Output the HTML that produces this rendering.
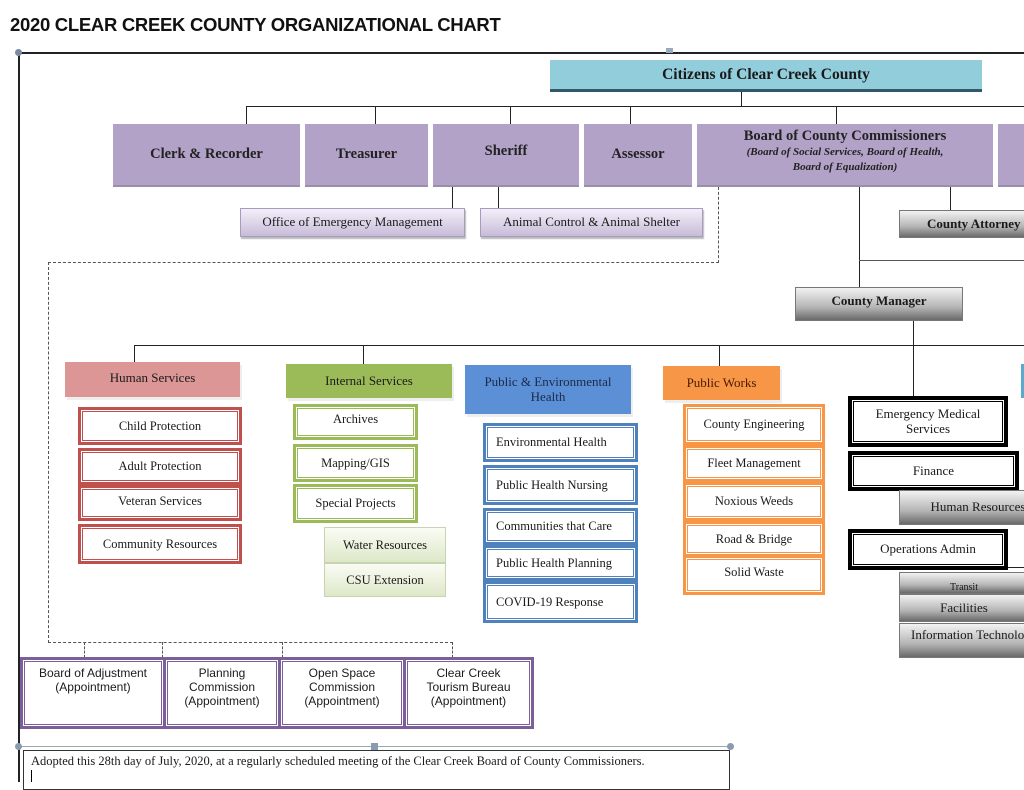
<!DOCTYPE html>
<html><head><meta charset="utf-8"><style>
*{margin:0;padding:0;box-sizing:border-box}
body{width:1024px;height:782px;background:#fff;position:relative;overflow:hidden;font-family:"Liberation Serif",serif;color:#1a1a1a}
.a{position:absolute}
.b{position:absolute;display:flex;align-items:center;justify-content:center;text-align:center;line-height:1.15}
.h{position:absolute;height:1px;background:#222}
.v{position:absolute;width:1px;background:#222}
.p{background:#b3a2c7;font-weight:bold;font-size:14.5px;color:#222;border-bottom:2px solid #9a8fa8}
.sub{background:linear-gradient(#f3effa,#c8bcd9);border:1px solid #a99bbd;font-size:13px;box-shadow:1px 2px 1px #bbb}
.g{background:linear-gradient(#f2f2f2,#b5b5b5 60%,#6a6a6a);border:1px solid #777;font-size:13px}
.gb{font-weight:bold}
.r{border:3px solid #c0504d;box-shadow:inset 0 0 0 1px #fff,inset 0 0 0 2px #c0504d;background:#fff;font-size:12.5px}
.gr{border:3px solid #9bbb59;box-shadow:inset 0 0 0 1px #fff,inset 0 0 0 2px #9bbb59;background:#fff;font-size:12.5px}
.bl{border:3px solid #4f81bd;box-shadow:inset 0 0 0 1px #fff,inset 0 0 0 2px #4f81bd;background:#fff;font-size:12.5px;justify-content:flex-start;padding-left:10px}
.o{border:3px solid #f79646;box-shadow:inset 0 0 0 1px #fff,inset 0 0 0 2px #f79646;background:#fff;font-size:12.5px}
.k{border:4px solid #000;box-shadow:inset 0 0 0 1px #fff,inset 0 0 0 2px #000;background:#fff;font-size:13px}
.lg{background:linear-gradient(#fafcf5,#dde8c8);border:1px solid #c8d4b0;font-size:12.5px}
.pu{border:3px solid #7a5f9a;box-shadow:inset 0 0 0 1px #fff,inset 0 0 0 2px #7a5f9a;background:#fff;font-family:"Liberation Sans",sans-serif;font-size:12px;align-items:flex-start;padding-top:7px}
.dh{position:absolute;height:0;border-top:1px dashed #555}
.dv{position:absolute;width:0;border-left:1px dashed #555}
</style></head><body>
<div class="a" style="left:10px;top:14px;font-family:'Liberation Sans',sans-serif;font-weight:bold;font-size:18.5px;letter-spacing:-0.3px;color:#111">2020 CLEAR CREEK COUNTY ORGANIZATIONAL CHART</div>
<div class="a" style="left:18px;top:52px;width:1006px;height:2px;background:#222"></div>
<div class="a" style="left:18px;top:52px;width:2px;height:730px;background:#222"></div>
<div class="a" style="left:15px;top:49px;width:7px;height:7px;border-radius:50%;background:#7a8aa0"></div>
<div class="a" style="left:666px;top:48px;width:7px;height:5px;background:#9ab"></div>

<div class="b" style="left:550px;top:60px;width:432px;height:32px;background:#92cddc;border-bottom:3px solid #31596a;font-weight:bold;font-size:15.5px">Citizens of Clear Creek County</div>
<div class="v" style="left:741px;top:92px;height:15px"></div>
<div class="h" style="left:246px;top:106px;width:778px"></div>
<div class="v" style="left:246px;top:106px;height:18px"></div>
<div class="v" style="left:375px;top:106px;height:18px"></div>
<div class="v" style="left:510px;top:106px;height:18px"></div>
<div class="v" style="left:630px;top:106px;height:18px"></div>
<div class="v" style="left:836px;top:106px;height:18px"></div>

<div class="b p" style="left:113px;top:124px;width:187px;height:63px">Clerk &amp; Recorder</div>
<div class="b p" style="left:305px;top:124px;width:123px;height:63px">Treasurer</div>
<div class="b p" style="left:433px;top:124px;width:146px;height:63px;padding-bottom:6px">Sheriff</div>
<div class="b p" style="left:584px;top:124px;width:108px;height:63px">Assessor</div>
<div class="b p" style="left:697px;top:124px;width:296px;height:63px;flex-direction:column;padding-bottom:6px"><div>Board of County Commissioners</div><div style="font-style:italic;font-size:11px;line-height:1.35">(Board of Social Services, Board of Health,<br>Board of Equalization)</div></div>
<div class="b p" style="left:998px;top:124px;width:30px;height:63px"></div>

<div class="v" style="left:452px;top:187px;height:21px"></div>
<div class="v" style="left:498px;top:187px;height:21px"></div>
<div class="b sub" style="left:240px;top:208px;width:225px;height:29px">Office of Emergency Management</div>
<div class="b sub" style="left:480px;top:208px;width:223px;height:29px">Animal Control &amp; Animal Shelter</div>
<div class="v" style="left:950px;top:187px;height:23px"></div>
<div class="b g gb" style="left:899px;top:210px;width:130px;height:28px;justify-content:flex-start;padding-left:27px;white-space:nowrap">County Attorney</div>

<div class="dv" style="left:718px;top:187px;height:76px"></div>
<div class="dh" style="left:48px;top:262px;width:671px"></div>
<div class="dv" style="left:48px;top:262px;height:381px"></div>
<div class="dh" style="left:48px;top:642px;width:405px"></div>
<div class="dv" style="left:84px;top:642px;height:16px"></div>
<div class="dv" style="left:162px;top:642px;height:16px"></div>
<div class="dv" style="left:282px;top:642px;height:16px"></div>
<div class="dv" style="left:452px;top:642px;height:16px"></div>

<div class="v" style="left:859px;top:187px;height:100px"></div>
<div class="h" style="left:859px;top:260px;width:165px;background:#555"></div>
<div class="b g gb" style="left:795px;top:287px;width:168px;height:34px;padding-bottom:6px">County Manager</div>
<div class="v" style="left:913px;top:321px;height:76px"></div>
<div class="h" style="left:134px;top:345px;width:890px"></div>
<div class="v" style="left:134px;top:345px;height:17px"></div>
<div class="v" style="left:363px;top:345px;height:20px"></div>
<div class="v" style="left:719px;top:345px;height:21px"></div>

<div class="b" style="left:65px;top:362px;width:175px;height:35px;background:#dc9696;font-size:13px;box-shadow:2px 3px 0 #eee;padding-bottom:3px">Human Services</div>
<div class="b r" style="left:78px;top:407px;width:164px;height:38px">Child Protection</div>
<div class="b r" style="left:78px;top:448px;width:164px;height:37px">Adult Protection</div>
<div class="b r" style="left:78px;top:485px;width:164px;height:36px;padding-bottom:4px">Veteran Services</div>
<div class="b r" style="left:78px;top:524px;width:164px;height:40px">Community Resources</div>

<div class="b" style="left:286px;top:364px;width:166px;height:34px;background:#9bbb59;font-size:13px;box-shadow:2px 3px 0 #eee">Internal Services</div>
<div class="b gr" style="left:293px;top:404px;width:125px;height:36px;padding-bottom:6px">Archives</div>
<div class="b gr" style="left:293px;top:444px;width:125px;height:38px">Mapping/GIS</div>
<div class="b gr" style="left:293px;top:484px;width:125px;height:39px">Special Projects</div>
<div class="b lg" style="left:324px;top:527px;width:122px;height:36px">Water Resources</div>
<div class="b lg" style="left:324px;top:563px;width:122px;height:34px">CSU Extension</div>

<div class="b" style="left:465px;top:365px;width:166px;height:49px;background:#5b8fd6;font-size:13px;box-shadow:2px 3px 0 #eee;color:#1b2a48">Public &amp; Environmental<br>Health</div>
<div class="b bl" style="left:483px;top:423px;width:155px;height:39px">Environmental Health</div>
<div class="b bl" style="left:483px;top:465px;width:155px;height:40px">Public Health Nursing</div>
<div class="b bl" style="left:483px;top:508px;width:155px;height:37px">Communities that Care</div>
<div class="b bl" style="left:483px;top:545px;width:155px;height:36px">Public Health Planning</div>
<div class="b bl" style="left:483px;top:581px;width:155px;height:42px">COVID-19 Response</div>

<div class="b" style="left:663px;top:366px;width:117px;height:34px;background:#f79646;font-size:13px;box-shadow:2px 3px 0 #eee;color:#4a1a00">Public Works</div>
<div class="b o" style="left:683px;top:404px;width:142px;height:41px">County Engineering</div>
<div class="b o" style="left:683px;top:445px;width:142px;height:37px">Fleet Management</div>
<div class="b o" style="left:683px;top:482px;width:142px;height:39px">Noxious Weeds</div>
<div class="b o" style="left:683px;top:521px;width:142px;height:36px">Road &amp; Bridge</div>
<div class="b o" style="left:683px;top:555px;width:142px;height:40px;padding-bottom:6px">Solid Waste</div>

<div class="b k" style="left:848px;top:396px;width:160px;height:51px">Emergency Medical<br>Services</div>
<div class="b k" style="left:848px;top:451px;width:171px;height:40px">Finance</div>
<div class="b g" style="left:899px;top:490px;width:130px;height:35px;padding-left:28px;white-space:nowrap">Human Resources</div>
<div class="b k" style="left:848px;top:529px;width:160px;height:41px">Operations Admin</div>
<div class="h" style="left:1008px;top:567px;width:16px"></div>
<div class="b g" style="left:899px;top:572px;width:130px;height:22px;font-size:10px;align-items:flex-end">Transit</div>
<div class="b g" style="left:899px;top:594px;width:130px;height:28px">Facilities</div>
<div class="b g" style="left:899px;top:623px;width:130px;height:35px;justify-content:flex-start;padding-left:11px;padding-bottom:10px;white-space:nowrap">Information Technology</div>
<div class="a" style="left:1021px;top:364px;width:6px;height:34px;background:#5aaad0"></div>

<div class="b pu" style="left:20px;top:657px;width:146px;height:72px">Board of Adjustment<br>(Appointment)</div>
<div class="b pu" style="left:163px;top:657px;width:118px;height:72px">Planning<br>Commission<br>(Appointment)</div>
<div class="b pu" style="left:278px;top:657px;width:128px;height:72px">Open Space<br>Commission<br>(Appointment)</div>
<div class="b pu" style="left:403px;top:657px;width:131px;height:72px">Clear Creek<br>Tourism Bureau<br>(Appointment)</div>

<div class="a" style="left:17px;top:746px;width:715px;height:1px;background:#9aa"></div>
<div class="a" style="left:15px;top:743px;width:7px;height:7px;border-radius:50%;background:#8a9ab0"></div>
<div class="a" style="left:371px;top:743px;width:7px;height:7px;background:#8a9ab0"></div>
<div class="a" style="left:727px;top:743px;width:7px;height:7px;border-radius:50%;background:#8a9ab0"></div>
<div class="a" style="left:23px;top:750px;width:707px;height:40px;border:1px solid #333"></div>
<div class="a" style="left:31px;top:754px;font-size:12.5px;letter-spacing:0;white-space:nowrap">Adopted this 28th day of July, 2020, at a regularly scheduled meeting of the Clear Creek Board of County Commissioners.</div>
<div class="a" style="left:31px;top:770px;width:1px;height:12px;background:#000"></div>
</body></html>
